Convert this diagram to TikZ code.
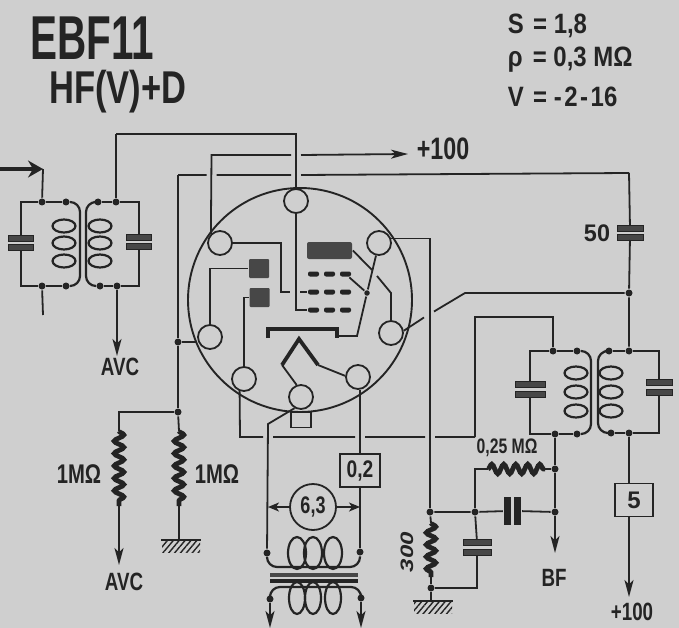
\documentclass[tikz,border=0pt]{standalone}
\usepackage{fontspec}
\setmainfont{Liberation Sans}
\usetikzlibrary{arrows.meta, decorations.pathmorphing, patterns.meta, shapes.geometric}
\definecolor{paper}{gray}{0.81}
\definecolor{ink}{gray}{0.14}
\definecolor{inkb}{gray}{0.28}
\tikzset{
  txt/.style={font=\fontsize{#1}{#1}\selectfont\bfseries, inner sep=0pt, xscale=.75, transform shape},
  jn/.style={circle, fill=ink, inner sep=0pt, minimum size=7pt},
  tubeenv/.style={circle, draw, line width=1.9pt, inner sep=0pt, minimum size=224pt},
  tubepin/.style={circle, draw, line width=1.8pt, fill=paper, inner sep=0pt, minimum size=24pt},
  anodebox/.style={rectangle, rounded corners=2pt, fill=inkb, inner sep=0pt, minimum width=45pt, minimum height=17pt},
  gridbit/.style={rectangle, rounded corners=2pt, fill=ink, inner sep=0pt, minimum width=11pt, minimum height=5pt},
  diodebox/.style={rectangle, rounded corners=1pt, fill=inkb, inner sep=0pt, minimum width=20pt, minimum height=19pt},
  heavy/.style={line width=3.8pt},
  plate/.style={rectangle, fill=inkb, draw=ink, line width=.5pt, inner sep=0pt, minimum width=#1, minimum height=5.5pt},
  vplate/.style={rectangle, fill=ink, inner sep=0pt, minimum width=7.5pt, minimum height=28pt},
  coilloop/.style={ellipse, draw, line width=2.2pt, inner sep=0pt, minimum width=23pt, minimum height=13pt},
  heatloop/.style={ellipse, draw, line width=2.2pt, inner sep=0pt, minimum width=18pt, minimum height=32pt},
  winding/.style={line width=2.2pt, rounded corners=10pt},
  res/.style={line width=4.8pt, decorate, decoration={snake, segment length=12.4pt, amplitude=4.8pt}},
  valuebox/.style={rectangle, draw, line width=1.8pt, fill=paper, inner sep=0pt, minimum width=#1, minimum height=33pt},
  earth/.style={rectangle, anchor=north, inner sep=0pt, minimum width=38pt, minimum height=12pt,
    pattern={Lines[angle=50,distance=4.5pt,line width=1.4pt]}, pattern color=ink},
}
\begin{document}
\begin{tikzpicture}[x=1pt,y=-1pt,line width=1.8pt,color=ink,>={Stealth[length=17pt,width=9pt,inset=4.5pt]}]
  \fill[paper] (0,0) rectangle (679,628);
  \useasboundingbox (0,0) rectangle (679,628);

  % headings
  \node[txt=62, xscale=.87] (ebf) at (92,38) {EBF11};
  \node[txt=46] (hf) at (118,92) {HF(V)+D};
  \node[txt=28, xscale=1.14, anchor=west] (lineS) at (507,26) {S\hspace{11pt}= 1,8};
  \node[txt=28, xscale=1.14, anchor=west] (lineP) at (507,60) {ρ\hspace{12pt}= 0,3 MΩ};
  \node[txt=28, xscale=1.14, anchor=west] (lineV) at (507,97) {V\hspace{11pt}= -\kern3pt 2\kern3pt -\kern3pt 16};

  % the valve
  \node[tubeenv] (env) at (300,300) {};
  \node[tubepin] (ptop) at (296,201) {};
  \node[tubepin] (pul) at (220,243) {};
  \node[tubepin] (pur) at (379,243) {};
  \node[tubepin] (pr) at (391,333) {};
  \node[tubepin] (plr) at (358,377) {};
  \node[tubepin] (pb) at (301,397) {};
  \node[tubepin] (pll) at (244,379) {};
  \node[tubepin] (pl) at (210,337) {};
  \node[anodebox] (anode) at (329.5,250.5) {};
  \foreach \r/\y in {a/274,b/292,c/310}
    \foreach \c/\x in {1/313.5,2/329.5,3/345.5}
      \node[gridbit] (g\r\c) at (\x,\y) {};
  \node[diodebox] (da) at (259,268.5) {};
  \node[diodebox] (db) at (259.5,297.5) {};
  \node[rectangle, draw, inner sep=0pt, minimum width=20pt, minimum height=15pt] (sq) at (301,420) {};
  \coordinate (katl) at (268,329);
  \coordinate (katr) at (337,329);
  \draw[heavy] (katl) ++(0,9) -- (katl) -- (katr) -- ++(0,9);
  \coordinate (hl) at (282,365);
  \coordinate (ht) at (299,339);
  \coordinate (hr) at (318,365);
  \draw[heavy] (hl) -- (ht) -- (hr);
  \draw (hl) -- (pb.110);
  \draw (hr) -- (plr.175);
  \draw (ptop) -- (ptop |- gc1) -- (gc1);
  \coordinate (ulb) at (281,243);
  \draw (pul) -- (ulb) -- (ulb |- gb1) -- ++(9,0) ++(10,0) -- (gb1);
  \node[jn, minimum size=5.5pt] (jg) at (367,293) {};
  \coordinate (kr) at (357,336);
  \draw (pur) -- (jg) -- (kr) -- (kr -| katr);
  \draw (ga3) -- (jg);
  \coordinate (ab1) at (372,270);
  \coordinate (ab2) at (377,276);
  \coordinate (ab3) at (391,293);
  \draw (anode.east) -- (ab1) (ab2) -- (ab3) -- (pr);
  \draw (da) -- (pl |- da) -- (pl);
  \draw (db) -- (pll |- db) -- (pll);

  % wires above the valve
  \coordinate (ta) at (296,134);
  \coordinate (tc) at (116,134);
  \coordinate (up) at (211.5,155);
  \coordinate (tip) at (408,154);
  \coordinate (tb) at (178,175);
  \coordinate (tr) at (629,173);
  \node[txt=31] (plus) at (443,149) {+100};
  \draw (ptop) -- (ta) -- (tc);
  \draw[->] (pul.135) -- (up) -- ([xshift=-5pt]up -| ptop) ([xshift=5pt]up -| ptop) -- (tip);
  \draw (tb) -- ([xshift=-5pt]tb -| up) ([xshift=5pt]tb -| up) -- ([xshift=-5pt]tb -| ptop) ([xshift=5pt]tb -| ptop) -- (tr);

  % input transformer
  \coordinate (inl) at (0,169);
  \coordinate (inr) at (43,169);
  \coordinate (tail) at (43,315);
  \coordinate (avca) at (117,356);
  \coordinate (w1) at (80,0);
  \coordinate (w2) at (86,0);
  \node[jn] (p1t) at (42,202) {};
  \node[jn] (p2t) at (66,202) {};
  \node[jn] (p1b) at (42,286) {};
  \node[jn] (p2b) at (66,286) {};
  \node[jn] (s1t) at (98,202) {};
  \node[jn] (s2t) at (116,202) {};
  \node[jn] (s1b) at (100,286) {};
  \node[jn] (s2b) at (117,286) {};
  \node[plate=25pt] (cla) at (21,238) {};
  \node[plate=25pt] (clb) at (21,247) {};
  \node[plate=25pt] (cra) at (139,237) {};
  \node[plate=25pt] (crb) at (139,246) {};
  \foreach \n/\y in {a/226,b/243,c/261} {
    \node[coilloop] (lp\n) at (64,\y) {};
    \node[coilloop] (ls\n) at (100,\y) {};
  }
  \draw[line width=3.4pt, -{Stealth[length=15pt,width=17pt,inset=5pt]}] (inl) -- (inr);
  \draw (inr) -- (p1t);
  \draw (p2t) -- (p1t) -- (p1t -| cla) -- (cla);
  \draw (clb) -- (p1b -| clb) -- (p1b) -- (p2b);
  \draw (p1b) -- (tail);
  \draw[winding] (p2t) -- (p2t -| w1) -- (p2b -| w1) -- (p2b);
  \draw[winding] (s1t) -- (s1t -| w2) -- (s1b -| w2) -- (s1b);
  \draw (s1t) -- (s2t) -- (s2t -| cra) -- (cra);
  \draw (crb) -- (s2b -| crb) -- (s2b) -- (s1b);
  \draw (tc) -- (s2t);
  \draw[->] (s2b) -- (avca);
  \node[txt=25] (avcatxt) at (120,367) {AVC};

  % grid leak resistors
  \node[jn] (jbus) at (178,342) {};
  \node[jn] (jr) at (178,412) {};
  \coordinate (ca) at (119,412);
  \coordinate (raa) at (119,431);
  \coordinate (rab) at (119,506);
  \coordinate (avcb) at (119,565);
  \coordinate (rba) at (179,431);
  \coordinate (rbb) at (179,506);
  \node[earth] (gnda) at (181,540) {};
  \draw[line width=2.8pt] (gnda.north west) -- (gnda.north east);
  \draw (tb) -- (jbus) -- (jr);
  \draw (jbus) -- (jbus -| pl.west);
  \draw (jr) -- (ca) -- (raa);
  \draw[res] (raa) -- (rab);
  \draw[->] (rab) -- (avcb);
  \draw (jr) -- (rba);
  \draw[res] (rba) -- (rbb);
  \draw (rbb) -- (rbb |- gnda.north);
  \node[txt=27] (r1a) at (79,474) {1MΩ};
  \node[txt=27] (r1b) at (217,474) {1MΩ};
  \node[txt=25] (avctxt) at (124,582) {AVC};

  % heater
  \node[jn] (htl) at (267,553) {};
  \node[jn] (htr) at (360,552) {};
  \node[jn] (hbl) at (270,599) {};
  \node[jn] (hbr) at (361,598) {};
  \coordinate (hk) at (268,424);
  \coordinate (hya) at (0,567);
  \coordinate (hyb) at (0,587);
  \coordinate (bl) at (270,628);
  \coordinate (br) at (361,628);
  \node[valuebox=40pt, font=\fontsize{24}{24}\selectfont\bfseries] (b02) at (360,470.5) {\scalebox{.8}[1]{0,2}};
  \node[circle, draw, inner sep=0pt, minimum size=46pt] (volt) at (313,507) {};
  \node[txt=24] (volttxt) at (313,507) {6,3};
  \foreach \n/\x in {a/297,b/313,c/333} {
    \node[heatloop] (ht\n) at (\x,553) {};
    \node[heatloop, minimum width=16pt] (hb\n) at (\x,598) {};
  }
  \node[rectangle, fill=inkb, inner sep=0pt, minimum width=88pt, minimum height=4.5pt] (corea) at (314,575) {};
  \node[rectangle, fill=ink, inner sep=0pt, minimum width=88pt, minimum height=4.5pt] (coreb) at (314,581) {};
  \draw (pb.-120) -- (hk) -- (htl);
  \draw (plr.south -| b02) -- (b02);
  \draw (b02) -- (htr);
  \draw[->, >={Stealth[length=11pt,width=9pt,inset=3pt]}] (volt) -- (volt -| hk);
  \draw[->, >={Stealth[length=11pt,width=9pt,inset=3pt]}] (volt) -- (volt -| htr);
  \draw[winding] (htl) -- (htl |- hya) -- (htr |- hya) -- (htr);
  \draw[winding] (hbl) -- (hbl |- hyb) -- (hbr |- hyb) -- (hbr);
  \draw[->] (hbl) -- (bl);
  \draw[->] (hbr) -- (br);

  % output transformer
  \node[jn] (j300) at (430,512) {};
  \node[jn] (j50) at (629,293) {};
  \node[jn] (rp1t) at (553,351) {};
  \node[jn] (rp2t) at (577,351) {};
  \node[jn] (rp1b) at (555,434) {};
  \node[jn] (rp2b) at (577,434) {};
  \node[jn] (rs1t) at (609,351) {};
  \node[jn] (rs2t) at (629,351) {};
  \node[jn] (rs1b) at (611,433) {};
  \node[jn] (rs2b) at (629,433) {};
  \node[plate=30pt] (cpa) at (530,384) {};
  \node[plate=30pt] (cpb) at (530,394) {};
  \node[plate=26pt] (csa) at (659,382) {};
  \node[plate=26pt] (csb) at (659,392) {};
  \node[plate=26pt] (cta) at (630,228) {};
  \node[plate=26pt] (ctb) at (630,237) {};
  \node[txt=24, xscale=1.3] (t50) at (597,233) {50};
  \foreach \n/\y in {a/373,b/392,c/411} {
    \node[coilloop] (rlp\n) at (576,\y) {};
    \node[coilloop] (rls\n) at (611,\y) {};
  }
  \coordinate (rw1) at (591,0);
  \coordinate (rw2) at (598,0);
  \coordinate (ry) at (0,317);
  \coordinate (ba) at (240,437);
  \coordinate (bc) at (475,437);
  \coordinate (rx1) at (424,317.5);
  \coordinate (rx2) at (434,311.5);
  \coordinate (rb) at (465,293);
  \draw (tr) -- (cta);
  \draw (ctb) -- (j50) -- (rs2t);
  \draw (pr.10) -- (rx1) (rx2) -- (rb) -- (j50);
  \draw (pur.20) -- (pur.20 -| j300) -- (j300);
  \draw (pll.-110) -- (ba) -- ([xshift=-5pt]ba -| hk) ([xshift=5pt]ba -| hk) -- ([xshift=-5pt]ba -| b02) ([xshift=5pt]ba -| b02) -- ([xshift=-5pt]ba -| j300) ([xshift=5pt]ba -| j300) -- (bc);
  \draw (bc) -- (bc |- ry) -- (rp1t |- ry) -- (rp1t);
  \draw (rp2t) -- (rp1t) -- (rp1t -| cpa) -- (cpa);
  \draw (cpb) -- (rp1b -| cpb) -- (rp1b) -- (rp2b);
  \draw[winding] (rp2t) -- (rp2t -| rw1) -- (rp2b -| rw1) -- (rp2b);
  \draw[winding] (rs1t) -- (rs1t -| rw2) -- (rs1b -| rw2) -- (rs1b);
  \draw (rs1t) -- (rs2t) -- (rs2t -| csa) -- (csa);
  \draw (csb) -- (rs2b -| csb) -- (rs2b) -- (rs1b);
  \node[valuebox=38pt, font=\fontsize{24}{24}\selectfont\bfseries] (b5) at (634,500) {5};
  \coordinate (t100) at (629,597);
  \draw (rs2b) -- (rs2b |- b5.north);
  \draw[->] (rs2b |- b5.south) -- (t100);
  \node[txt=25] (p100) at (632,612) {+100};

  % detector load
  \node[jn] (jr1) at (555,469) {};
  \node[jn] (jr2) at (555,512) {};
  \node[jn] (j5a) at (475,512) {};
  \node[jn] (j3b) at (431,588) {};
  \coordinate (bf) at (555,553);
  \coordinate (rla) at (488,469);
  \coordinate (rlb) at (545,469);
  \coordinate (r3a) at (431,523);
  \coordinate (r3b) at (431,577);
  \node[vplate] (cpl) at (507.5,511) {};
  \node[vplate] (cpr) at (517.5,511) {};
  \node[plate=28pt] (cga) at (477,542) {};
  \node[plate=28pt] (cgb) at (477,552) {};
  \node[earth] (gndb) at (433,601) {};
  \draw[line width=2.8pt] (gndb.north west) -- (gndb.north east);
  \draw (rp1b) -- (jr1) -- (jr2);
  \draw[->] (jr2) -- (bf);
  \draw (j300) -- (j5a) -- (cpl);
  \draw (cpr) -- (jr2);
  \draw (j5a) -- (j5a |- rla) -- (rla);
  \draw[res, decoration={snake, segment length=12pt, amplitude=4.8pt}] (rla) -- (rlb);
  \draw (rlb) -- (jr1);
  \draw (j5a) -- (cga);
  \draw (cgb) -- (cgb |- j3b) -- (j3b);
  \draw (j300) -- (r3a);
  \draw[res, decoration={snake, segment length=12pt, amplitude=4.8pt}] (r3a) -- (r3b);
  \draw (r3b) -- (j3b) -- (j3b |- gndb.north);
  \node[txt=21] (r025) at (507,448) {0,25 MΩ};
  \node[txt=25] (bftxt) at (554,578) {BF};
  \node[txt=24, font=\fontsize{24}{24}\selectfont\itshape\bfseries, xscale=1, rotate=90] (r300) at (407,552) {300};
\end{tikzpicture}
\end{document}
